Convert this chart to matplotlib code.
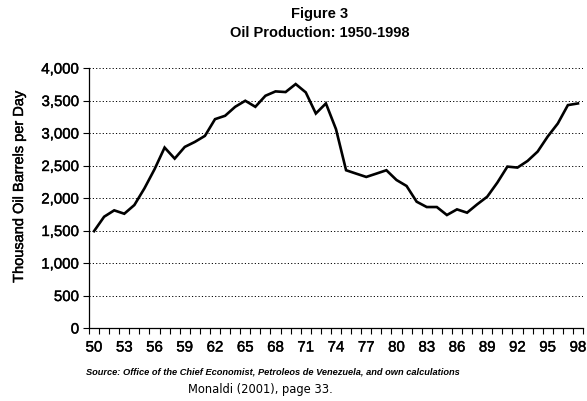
import matplotlib
matplotlib.use("Agg")
import matplotlib.pyplot as plt
import matplotlib.patheffects as pe
import numpy as np

years = list(range(1950, 1999))
production = [1490, 1712, 1810, 1758, 1892, 2149, 2442, 2776, 2606, 2786,
              2863, 2956, 3213, 3265, 3403, 3496, 3403, 3573, 3640, 3630,
              3753, 3625, 3300, 3455, 3059, 2427, 2375, 2324, 2375, 2427,
              2277, 2185, 1943, 1861, 1861, 1738, 1825, 1774, 1902, 2020,
              2236, 2483, 2468, 2570, 2714, 2946, 3146, 3429, 3455]
y_ticks = [0, 500, 1000, 1500, 2000, 2500, 3000, 3500, 4000]
x_label_years = list(range(1950, 1999, 3))

plt.rcParams['font.family'] = ['Liberation Sans', 'DejaVu Sans']
heavy = [pe.withStroke(linewidth=0.3, foreground='black')]

fig = plt.figure(figsize=(5.87, 4.02), dpi=100)
ax = fig.add_axes([89/587, 1-329/402, (583-89)/587, (329-69)/402])

ax.plot(years, production, color='black', lw=1.9, solid_joinstyle='miter')

ax.set_xlim(1949.5, 1998.5)
ax.set_ylim(0, 4000)
ax.set_yticks(y_ticks)
ax.set_yticklabels([f"{v:,}" for v in y_ticks], fontsize=10.8)
ax.set_xticks([y - 0.5 for y in range(1950, 2000)])
ax.set_xticklabels([])
ax.set_xticks(x_label_years, minor=True)
ax.set_xticklabels([f"{y % 100:02d}" for y in x_label_years], minor=True,
                   fontsize=10.8)
for t in ax.get_yticklabels() + ax.get_xticklabels(minor=True):
    t.set_path_effects(heavy)
ax.tick_params(axis='x', which='major', length=4, width=0.8, direction='out')
ax.tick_params(axis='x', which='minor', length=0, pad=9)
ax.tick_params(axis='y', length=4, width=0.8, direction='out', pad=3)

for v in y_ticks[1:]:
    ax.axhline(v, color='black', lw=0.7, ls=(0, (1.2, 2.2)), zorder=0)

for s in ['top', 'right']:
    ax.spines[s].set_visible(False)
ax.spines['left'].set_linewidth(0.9)
ax.spines['bottom'].set_linewidth(0.9)

fig.text(19/587, 1-187/402, 'Thousand Oil Barrels per Day', rotation=90,
         ha='center', va='center', fontsize=10.5, path_effects=heavy)

fig.text(320/587, 1-14/402, 'Figure 3', ha='center', va='center', fontsize=10.5, fontweight='bold')
fig.text(320/587, 1-33/402, 'Oil Production: 1950-1998', ha='center', va='center',
         fontsize=10.5, fontweight='bold')
fig.text(86/587, 1-372/402,
         'Source: Office of the Chief Economist, Petroleos de Venezuela, and own calculations',
         ha='left', va='center', fontsize=6.7, fontstyle='italic', fontweight='bold')
fig.text(188/587, 1-390/402, 'Monaldi (2001), page 33.', ha='left', va='center',
         fontsize=8.3, family='DejaVu Sans')

fig.savefig('out.png', dpi=100)
